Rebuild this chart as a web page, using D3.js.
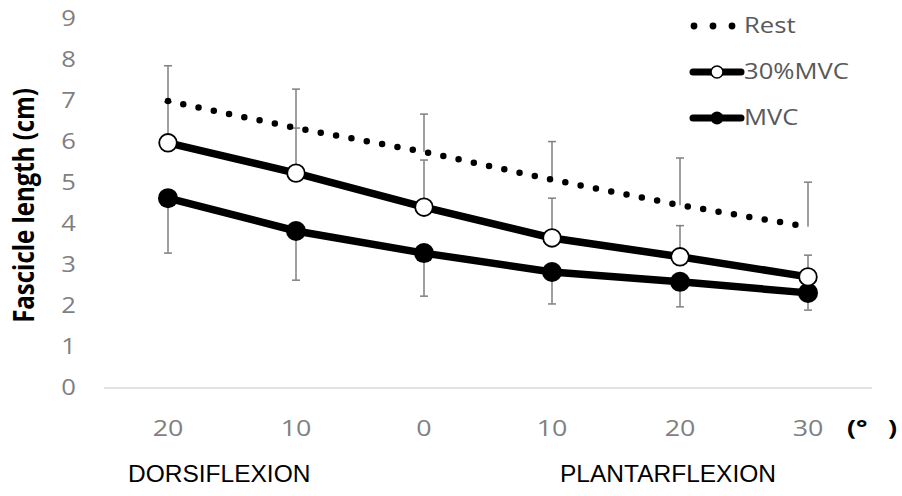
<!DOCTYPE html>
<html>
<head>
<meta charset="utf-8">
<script src="https://cdn.jsdelivr.net/npm/d3@7"></script>
<style>
  html, body { margin: 0; padding: 0; background: #fff; }
  svg { display: block; }
</style>
</head>
<body>
<div id="chart"></div>
<script>
const categories = ["20", "10", "0", "10 ", "20 ", "30"];
const restValues = [7.0, 6.34, 5.76, 5.08, 4.46, 3.93];
const restErr    = [0.86, 0.95, 0.92, 0.93, 1.15, 1.09];
const mvc30Values = [5.98, 5.24, 4.41, 3.66, 3.2, 2.71];
const mvc30Err    = [1.0, 1.1, 1.15, 0.97, 0.76, 0.53];
const mvcValues = [4.63, 3.83, 3.29, 2.83, 2.59, 2.32];
const mvcErr    = [1.34, 1.2, 1.05, 0.78, 0.61, 0.42];
const yTicks = [0, 1, 2, 3, 4, 5, 6, 7, 8, 9];

const W = 902, H = 496;
const M = { top: 19, right: 30, bottom: 108, left: 104 };
const SX = 1.22; // text in the picture is stretched sideways

const svg = d3.select("#chart").append("svg")
  .attr("width", W).attr("height", H)
  .attr("viewBox", `0 0 ${W} ${H}`);

const x = d3.scaleBand().domain(d3.range(categories.length))
  .range([M.left, W - M.right]);
const cx = i => x(i) + x.bandwidth() / 2;
const y = d3.scaleLinear().domain([0, 9]).range([H - M.bottom, M.top]);

const tickFont = "'Open Sans', 'Noto Sans', sans-serif";
const grey = "#7f7f7f";

// x axis baseline
svg.append("line")
  .attr("x1", M.left).attr("x2", W - M.right)
  .attr("y1", y(0)).attr("y2", y(0))
  .attr("stroke", "#d9d9d9").attr("stroke-width", 1.5);

// y tick labels
svg.append("g").selectAll("text")
  .data(yTicks).enter().append("text")
  .attr("transform", d => `translate(76,${y(d)}) scale(${SX},1)`)
  .attr("dy", "0.35em")
  .attr("text-anchor", "end")
  .style("font-family", tickFont)
  .style("font-size", "21px")
  .style("fill", grey)
  .text(d => d);

// x tick labels
svg.append("g").selectAll("text")
  .data(categories).enter().append("text")
  .attr("transform", (_, i) => `translate(${cx(i)},428) scale(${SX},1)`)
  .attr("dy", "0.35em")
  .attr("text-anchor", "middle")
  .style("font-family", tickFont)
  .style("font-size", "22px")
  .style("fill", grey)
  .text(d => d.trim());

// unit
svg.append("text")
  .attr("transform", `translate(847,427) scale(${SX},1)`)
  .attr("dy", "0.35em")
  .style("font-family", tickFont)
  .style("font-size", "22px")
  .style("font-weight", "bold")
  .style("fill", "#000")
  .text("(°\u2002 )");

// direction labels
const dirFont = "'Liberation Sans', Arial, sans-serif";
svg.append("text").attr("x", 128).attr("y", 482)
  .style("font-family", dirFont).style("font-size", "24.5px")
  .style("fill", "#000").text("DORSIFLEXION");
svg.append("text").attr("x", 560).attr("y", 482)
  .style("font-family", dirFont).style("font-size", "24.5px")
  .style("fill", "#000").text("PLANTARFLEXION");

// y axis title
svg.append("text")
  .attr("transform", `translate(24,${(y(0) + y(9)) / 2 + 2}) scale(${SX},1) rotate(-90)`)
  .attr("dy", "0.35em")
  .attr("text-anchor", "middle")
  .style("font-family", tickFont)
  .style("font-size", "24px")
  .style("font-weight", "bold")
  .style("fill", "#000")
  .text("Fascicle length (cm)");

// error bars
function errBars(values, errs, dir) {
  const g = svg.append("g").attr("stroke", "#808080").attr("stroke-width", 1.5);
  values.forEach((v, i) => {
    const end = v + dir * errs[i];
    g.append("line").attr("x1", cx(i)).attr("x2", cx(i))
      .attr("y1", y(v)).attr("y2", y(end));
    g.append("line").attr("x1", cx(i) - 4).attr("x2", cx(i) + 4)
      .attr("y1", y(end)).attr("y2", y(end));
  });
}
errBars(restValues, restErr, 1);
errBars(mvc30Values, mvc30Err, 1);
errBars(mvcValues, mvcErr, -1);

const line = d3.line().x((_, i) => cx(i)).y(d => y(d));

// Rest: round dotted line
svg.append("path").datum(restValues)
  .attr("fill", "none").attr("stroke", "#000")
  .attr("stroke-width", 6.5)
  .attr("stroke-linecap", "round")
  .attr("stroke-dasharray", "0 15.6")
  .attr("d", line);

// MVC
svg.append("path").datum(mvcValues)
  .attr("fill", "none").attr("stroke", "#000").attr("stroke-width", 7.5)
  .attr("d", line);
svg.append("g").selectAll("circle").data(mvcValues).enter().append("circle")
  .attr("cx", (_, i) => cx(i)).attr("cy", d => y(d)).attr("r", 10)
  .attr("fill", "#000");

// 30%MVC
svg.append("path").datum(mvc30Values)
  .attr("fill", "none").attr("stroke", "#000").attr("stroke-width", 7.5)
  .attr("d", line);
svg.append("g").selectAll("circle").data(mvc30Values).enter().append("circle")
  .attr("cx", (_, i) => cx(i)).attr("cy", d => y(d)).attr("r", 8.8)
  .attr("fill", "#fff").attr("stroke", "#000").attr("stroke-width", 1.8);

// legend
const legend = svg.append("g");
const lx1 = 693, lx2 = 741, lmid = 717;
const legendRows = [
  { label: "Rest", y: 26, type: "dot" },
  { label: "30%MVC", y: 72, type: "open" },
  { label: "MVC", y: 118, type: "filled" }
];
legendRows.forEach(r => {
  if (r.type === "dot") {
    [694, 713, 732].forEach(px => {
      legend.append("circle").attr("cx", px).attr("cy", r.y).attr("r", 3.4)
        .attr("fill", "#000");
    });
  } else {
    legend.append("line").attr("x1", lx1).attr("x2", lx2)
      .attr("y1", r.y).attr("y2", r.y)
      .attr("stroke", "#000").attr("stroke-width", 7)
      .attr("stroke-linecap", "round");
    legend.append("circle").attr("cx", lmid).attr("cy", r.y)
      .attr("r", r.type === "open" ? 6 : 6.5)
      .attr("fill", r.type === "open" ? "#fff" : "#000")
      .attr("stroke", "#000").attr("stroke-width", r.type === "open" ? 1.5 : 0);
  }
  legend.append("text")
    .attr("transform", `translate(744,${r.y}) scale(${SX},1)`)
    .attr("dy", "0.35em")
    .style("font-family", tickFont).style("font-size", "21px")
    .style("fill", "#595959").text(r.label);
});
</script>
</body>
</html>
